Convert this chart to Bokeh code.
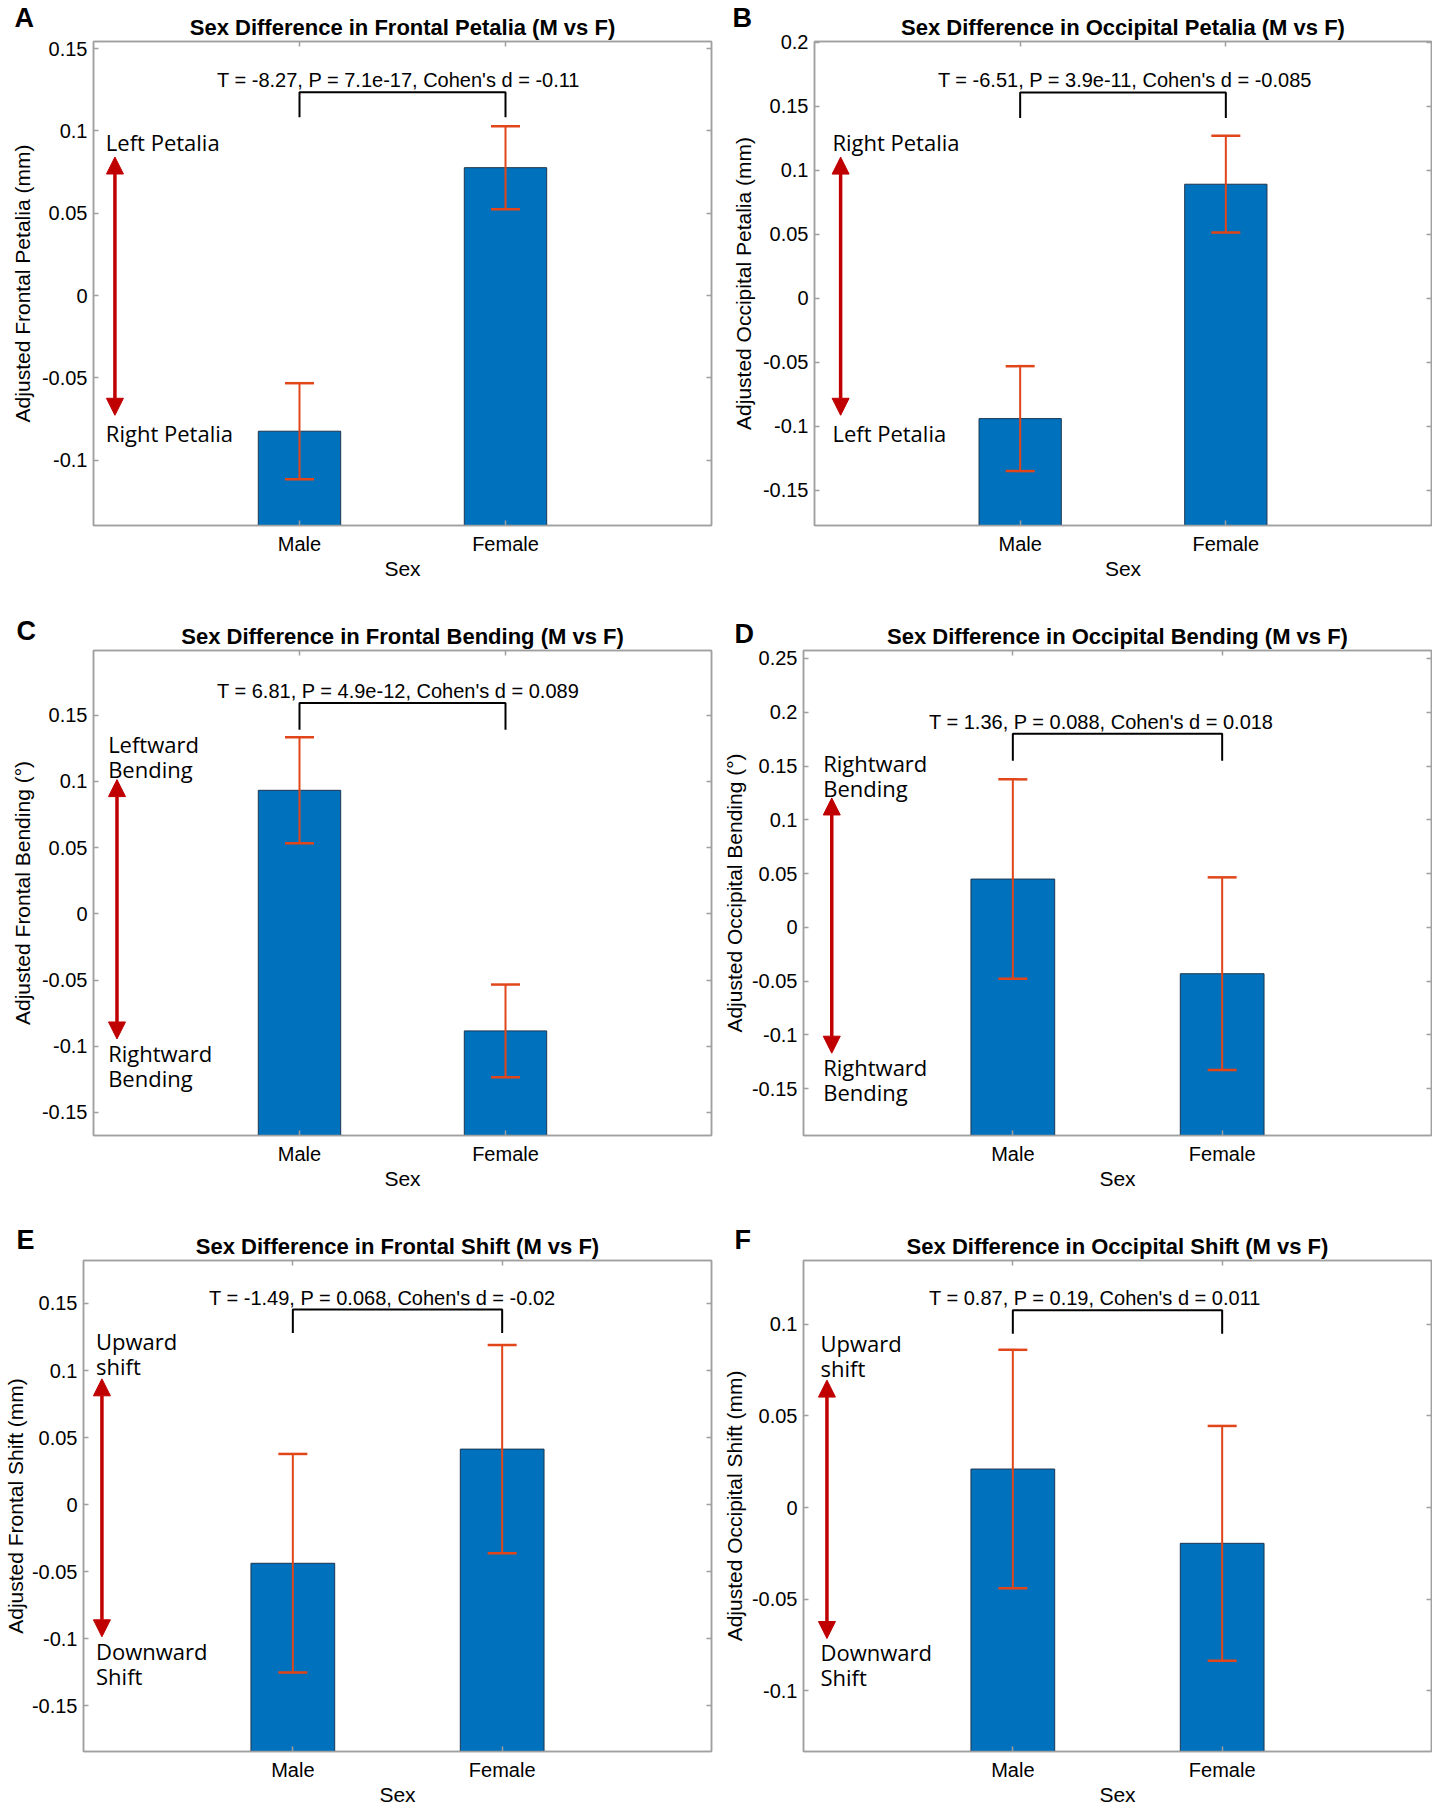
from bokeh.plotting import figure
from bokeh.models import (ColumnDataSource, Whisker, TeeHead, Arrow, NormalHead,
                          Label, LinearAxis, FixedTicker, Range1d, Title)
from bokeh.layouts import column, row
from bokeh.embed import file_html
from bokeh.resources import INLINE

# ---------------- data ----------------
categories = ["Male", "Female"]
x_pos = [1, 2]

# A: frontal petalia
fp_mean = [-0.0825, 0.0777]
fp_se = [0.0292, 0.0252]
fp_yticks = [-0.1, -0.05, 0, 0.05, 0.1, 0.15]
fp_ylabels = ["-0.1", "-0.05", "0", "0.05", "0.1", "0.15"]
fp_ylim = [-0.1398, 0.1544]
fp_stats = "T = -8.27, P = 7.1e-17, Cohen's d = -0.11"

# B: occipital petalia
op_mean = [-0.0940, 0.0891]
op_se = [0.0410, 0.0378]
op_yticks = [-0.15, -0.1, -0.05, 0, 0.05, 0.1, 0.15, 0.2]
op_ylabels = ["-0.15", "-0.1", "-0.05", "0", "0.05", "0.1", "0.15", "0.2"]
op_ylim = [-0.1775, 0.2006]
op_stats = "T = -6.51, P = 3.9e-11, Cohen's d = -0.085"

# C: frontal bending
fb_mean = [0.0933, -0.0884]
fb_se = [0.0400, 0.0350]
fb_yticks = [-0.15, -0.1, -0.05, 0, 0.05, 0.1, 0.15]
fb_ylabels = ["-0.15", "-0.1", "-0.05", "0", "0.05", "0.1", "0.15"]
fb_ylim = [-0.1674, 0.1989]
fb_stats = "T = 6.81, P = 4.9e-12, Cohen's d = 0.089"

# D: occipital bending
ob_mean = [0.0449, -0.0431]
ob_se = [0.0927, 0.0896]
ob_yticks = [-0.15, -0.1, -0.05, 0, 0.05, 0.1, 0.15, 0.2, 0.25]
ob_ylabels = ["-0.15", "-0.1", "-0.05", "0", "0.05", "0.1", "0.15", "0.2", "0.25"]
ob_ylim = [-0.1935, 0.2574]
ob_stats = "T = 1.36, P = 0.088, Cohen's d = 0.018"

# E: frontal shift
fs_mean = [-0.0437, 0.0414]
fs_se = [0.0815, 0.0776]
fs_yticks = [-0.15, -0.1, -0.05, 0, 0.05, 0.1, 0.15]
fs_ylabels = ["-0.15", "-0.1", "-0.05", "0", "0.05", "0.1", "0.15"]
fs_ylim = [-0.184, 0.182]
fs_stats = "T = -1.49, P = 0.068, Cohen's d = -0.02"

# F: occipital shift
os_mean = [0.0210, -0.0195]
os_se = [0.0650, 0.0640]
os_yticks = [-0.1, -0.05, 0, 0.05, 0.1]
os_ylabels = ["-0.1", "-0.05", "0", "0.05", "0.1"]
os_ylim = [-0.133, 0.1347]
os_stats = "T = 0.87, P = 0.19, Cohen's d = 0.011"

# ---------------- styling ----------------
BLUE = "#0072BD"
EDGE = "#1B3550"
ORANGE = "#E0461A"
RED = "#C00000"
GREY = "#A0A0A0"
FONT = "Liberation Sans"
NOTE_FONT = "Open Sans"

panels = [
    dict(letter="A", title="Sex Difference in Frontal Petalia (M vs F)",
         ylabel="Adjusted Frontal Petalia (mm)", mean=fp_mean, se=fp_se,
         yticks=fp_yticks, ylabels=fp_ylabels, ylim=fp_ylim, stats=fp_stats,
         bracket=(0.1235, 0.1084), arrow=(0.104, -0.0728, 0.0842),
         top_note=("Left Petalia", 0.06, 0.0935), bot_note=("Right Petalia", 0.06, -0.0833),
         w=716, h=600, bl=93, br=5, bt=41, bb=75, ls=5, letter_dx=-79, letter_so=-43),
    dict(letter="B", title="Sex Difference in Occipital Petalia (M vs F)",
         ylabel="Adjusted Occipital Petalia (mm)", mean=op_mean, se=op_se,
         yticks=op_yticks, ylabels=op_ylabels, ylim=op_ylim, stats=op_stats,
         bracket=(0.1608, 0.1408), arrow=(0.127, -0.0914, 0.1103),
         top_note=("Right Petalia", 0.087, 0.1223), bot_note=("Left Petalia", 0.087, -0.1049),
         w=716, h=600, bl=98, br=1, bt=41, bb=75, ls=5, letter_dx=-82, letter_so=-43),
    dict(letter="C", title="Sex Difference in Frontal Bending (M vs F)",
         ylabel="Adjusted Frontal Bending (°)", mean=fb_mean, se=fb_se,
         yticks=fb_yticks, ylabels=fb_ylabels, ylim=fb_ylim, stats=fb_stats,
         bracket=(0.1593, 0.139), arrow=(0.114, -0.0945, 0.1014),
         top_note=("Leftward\nBending", 0.071, 0.1189), bot_note=("Rightward\nBending", 0.071, -0.1146),
         w=716, h=600, bl=93, br=5, bt=50, bb=65, ls=5, letter_dx=-77, letter_so=-50),
    dict(letter="D", title="Sex Difference in Occipital Bending (M vs F)",
         ylabel="Adjusted Occipital Bending (°)", mean=ob_mean, se=ob_se,
         yticks=ob_yticks, ylabels=ob_ylabels, ylim=ob_ylim, stats=ob_stats,
         bracket=(0.1799, 0.155), arrow=(0.135, -0.117, 0.1203),
         top_note=("Rightward\nBending", 0.094, 0.1415), bot_note=("Rightward\nBending", 0.094, -0.1418),
         w=716, h=600, bl=87, br=1, bt=44, bb=64, ls=3, letter_dx=-69, letter_so=-57),
    dict(letter="E", title="Sex Difference in Frontal Shift (M vs F)",
         ylabel="Adjusted Frontal Shift (mm)", mean=fs_mean, se=fs_se,
         yticks=fs_yticks, ylabels=fs_ylabels, ylim=fs_ylim, stats=fs_stats,
         bracket=(0.1454, 0.128), arrow=(0.088, -0.0985, 0.0938),
         top_note=("Upward\nshift", 0.06, 0.1124), bot_note=("Downward\nShift", 0.06, -0.1181),
         w=716, h=608, bl=83, br=5, bt=60, bb=56, ls=2, letter_dx=-67, letter_so=-49),
    dict(letter="F", title="Sex Difference in Occipital Shift (M vs F)",
         ylabel="Adjusted Occipital Shift (mm)", mean=os_mean, se=os_se,
         yticks=os_yticks, ylabels=os_ylabels, ylim=os_ylim, stats=os_stats,
         bracket=(0.1076, 0.0947), arrow=(0.112, -0.0714, 0.0695),
         top_note=("Upward\nshift", 0.081, 0.0828), bot_note=("Downward\nShift", 0.081, -0.0856),
         w=716, h=608, bl=87, br=1, bt=60, bb=56, ls=3, letter_dx=-69, letter_so=-49),
]


def style_axis(ax, ticks, labels, show_labels=True):
    ax.ticker = FixedTicker(ticks=ticks)
    if show_labels:
        ax.major_label_overrides = {t: l for t, l in zip(ticks, labels)}
    else:
        ax.major_label_overrides = {t: "" for t in ticks}
        ax.major_label_text_font_size = "0px"
        ax.major_label_standoff = 0
    ax.major_tick_in = 5
    ax.major_tick_out = 0
    ax.minor_tick_line_color = None
    ax.axis_line_color = GREY
    ax.axis_line_width = 1.5
    ax.major_tick_line_color = GREY
    ax.major_tick_line_width = 1.5
    ax.major_label_text_font = FONT
    ax.major_label_text_color = "black"
    ax.axis_label_text_font = FONT
    ax.axis_label_text_font_style = "normal"
    ax.axis_label_text_color = "black"
    ax.axis_label_text_font_size = "21px"


def make_panel(s):
    y0, y1 = s["ylim"]
    p = figure(width=s["w"], height=s["h"], x_range=Range1d(0, 3), y_range=Range1d(y0, y1),
               output_backend="svg", toolbar_location=None, title=None,
               min_border_left=s["bl"], min_border_right=s["br"],
               min_border_top=s["bt"], min_border_bottom=s["bb"])
    p.xgrid.visible = False
    p.ygrid.visible = False
    p.outline_line_color = GREY
    p.outline_line_width = 1.5
    p.outline_line_alpha = 1.0
    p.background_fill_color = "white"
    p.border_fill_color = "white"

    style_axis(p.xaxis[0], x_pos, categories)
    style_axis(p.yaxis[0], s["yticks"], s["ylabels"])
    p.xaxis.major_label_text_font_size = "20px"
    p.yaxis.major_label_text_font_size = "20px"
    p.xaxis.major_label_standoff = 7
    p.yaxis.major_label_standoff = 6
    p.xaxis.axis_label = "Sex"
    p.yaxis.axis_label = s["ylabel"]
    p.xaxis.axis_label_standoff = -1
    p.yaxis.axis_label_standoff = s["ls"]

    right = LinearAxis()
    style_axis(right, s["yticks"], s["ylabels"], show_labels=False)
    p.add_layout(right, "right")
    top = LinearAxis()
    style_axis(top, x_pos, categories, show_labels=False)
    p.add_layout(top, "above")

    # title and panel letter (stacked above the frame)
    p.add_layout(Title(text=s["title"], align="center", text_font=FONT,
                       text_font_size="22px", text_font_style="bold",
                       text_color="black", standoff=3), "above")
    p.add_layout(Title(text=s["letter"], align="left", offset=s["letter_dx"],
                       text_font=FONT, text_font_size="27px", text_font_style="bold",
                       text_color="black", standoff=s["letter_so"]), "above")

    # bars
    base = [y0 - 0.05] * len(x_pos)
    p.vbar(x=x_pos, top=s["mean"], bottom=base, width=0.4,
           fill_color=BLUE, line_color=EDGE, line_width=1)

    # error bars
    src = ColumnDataSource(dict(x=x_pos,
                                upper=[m + e for m, e in zip(s["mean"], s["se"])],
                                lower=[m - e for m, e in zip(s["mean"], s["se"])]))
    w = Whisker(base="x", upper="upper", lower="lower", source=src,
                line_color=ORANGE, line_width=2, level="annotation",
                upper_head=TeeHead(size=29, line_color=ORANGE, line_width=2.5),
                lower_head=TeeHead(size=29, line_color=ORANGE, line_width=2.5))
    p.add_layout(w)

    # significance bracket
    btop, bleg = s["bracket"]
    p.line(x=[x_pos[0], x_pos[0], x_pos[1], x_pos[1]], y=[bleg, btop, btop, bleg],
           line_color="black", line_width=2)
    p.add_layout(Label(x=0.6, y=btop, y_offset=12, text=s["stats"], text_font=FONT,
                       text_font_size="20px", text_align="left",
                       text_baseline="alphabetic", text_color="black"))

    # direction arrow
    ax_, ab, at = s["arrow"]
    p.add_layout(Arrow(x_start=ax_, y_start=ab, x_end=ax_, y_end=at,
                       line_color=RED, line_width=3.5,
                       start=NormalHead(size=17, fill_color=RED, line_color=RED),
                       end=NormalHead(size=17, fill_color=RED, line_color=RED)))
    for txt, tx, ty in (s["top_note"], s["bot_note"]):
        p.add_layout(Label(x=tx, y=ty, text=txt, text_font=NOTE_FONT, text_font_size="22px",
                           text_align="left", text_baseline="middle", text_color="black",
                           text_line_height=0.83))
    return p


figs = [make_panel(s) for s in panels]
layout = column(row(figs[0], figs[1]), row(figs[2], figs[3]), row(figs[4], figs[5]))
open("out.html", "w").write(file_html(layout, INLINE))
